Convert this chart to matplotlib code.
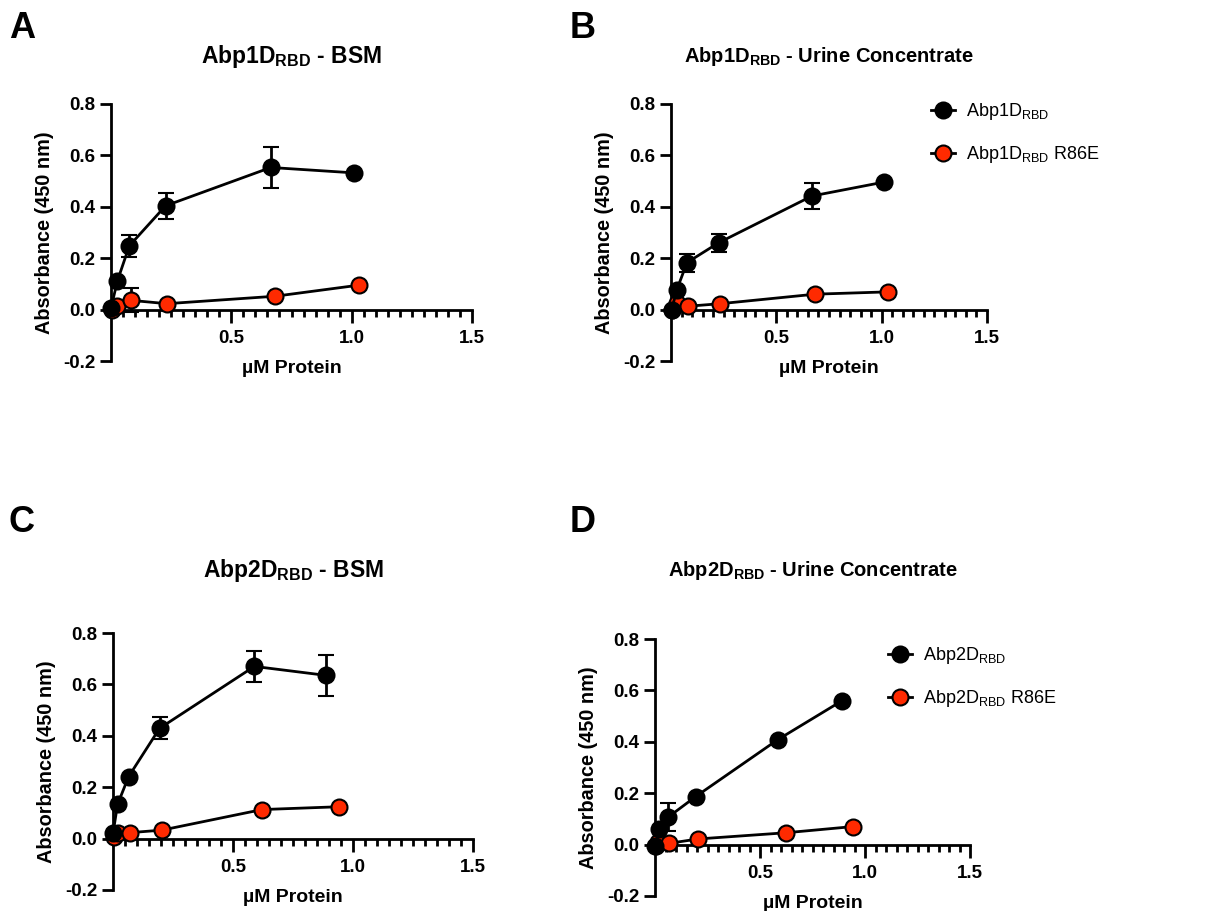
import matplotlib
matplotlib.use('Agg')
import matplotlib.pyplot as plt
from matplotlib.ticker import MultipleLocator
from matplotlib.lines import Line2D

plt.rcParams['font.family'] = ['Liberation Sans', 'DejaVu Sans']
plt.rcParams['mathtext.fontset'] = 'custom'
plt.rcParams['mathtext.rm'] = 'Liberation Sans'
plt.rcParams['mathtext.bf'] = 'Liberation Sans:bold'

RED = '#FF2A00'

# panel A: Abp1D_RBD - BSM
a_wt_x = [0.0, 0.026, 0.076, 0.227, 0.664, 1.01]
a_wt_y = [0.005, 0.11, 0.248, 0.404, 0.553, 0.532]
a_wt_err = [0, 0, 0.044, 0.05, 0.08, 0]
a_mut_x = [0.003, 0.026, 0.083, 0.232, 0.682, 1.029]
a_mut_y = [0.0, 0.013, 0.036, 0.023, 0.052, 0.095]
a_mut_err = [0, 0, 0.047, 0, 0, 0]

# panel B: Abp1D_RBD - Urine Concentrate
b_wt_x = [0.003, 0.028, 0.076, 0.226, 0.669, 1.01]
b_wt_y = [0.0, 0.078, 0.183, 0.26, 0.442, 0.496]
b_wt_err = [0, 0, 0.035, 0.035, 0.049, 0]
b_mut_x = [0.003, 0.028, 0.079, 0.234, 0.684, 1.03]
b_mut_y = [0.0, 0.026, 0.013, 0.023, 0.06, 0.069]
b_mut_err = [0, 0, 0, 0, 0, 0]

# panel C: Abp2D_RBD - BSM
c_wt_x = [0.0, 0.019, 0.065, 0.194, 0.589, 0.889]
c_wt_y = [0.02, 0.133, 0.241, 0.429, 0.67, 0.635]
c_wt_err = [0, 0, 0, 0.043, 0.059, 0.079]
c_mut_x = [0.003, 0.019, 0.069, 0.204, 0.621, 0.943]
c_mut_y = [0.007, 0.02, 0.023, 0.033, 0.113, 0.124]
c_mut_err = [0, 0, 0, 0, 0, 0]

# panel D: Abp2D_RBD - Urine Concentrate
d_wt_x = [0.0, 0.021, 0.063, 0.194, 0.584, 0.889]
d_wt_y = [-0.007, 0.059, 0.107, 0.187, 0.408, 0.559]
d_wt_err = [0, 0, 0.056, 0, 0, 0]
d_mut_x = [0.003, 0.016, 0.067, 0.206, 0.622, 0.941]
d_mut_y = [-0.004, 0.009, 0.005, 0.022, 0.046, 0.07]
d_mut_err = [0, 0, 0, 0, 0, 0]

W, H = 1212, 911
fig = plt.figure(figsize=(W / 100, H / 100), dpi=100)


def box(l, r, t, b):
    return [l / W, 1 - b / H, (r - l) / W, (b - t) / H]


def panel(rect, letter, letter_xy, title, title_y, title_size, wt, mut):
    ax = fig.add_axes(rect)
    # red first so black sits on top near the origin
    for (x, y, e), fc in ((mut, RED), (wt, 'black')):
        ax.errorbar(x, y, yerr=e, color='black', lw=2, elinewidth=2,
                    capsize=6, capthick=2, marker='o', ms=11.5,
                    mfc=fc, mec='black', mew=1.5, clip_on=False, zorder=3)
    ax.set_xlim(0, 1.5)
    ax.set_ylim(-0.2, 0.8)
    ax.spines['top'].set_visible(False)
    ax.spines['right'].set_visible(False)
    ax.spines['bottom'].set_position(('data', 0))
    ax.spines['left'].set_linewidth(2)
    ax.spines['bottom'].set_linewidth(2)
    ax.set_xticks([0.5, 1.0, 1.5])
    ax.xaxis.set_minor_locator(MultipleLocator(0.05))
    ax.set_yticks([-0.2, 0.0, 0.2, 0.4, 0.6, 0.8])
    ax.yaxis.set_major_formatter(plt.FuncFormatter(lambda v, p: f'{v:.1f}'))
    ax.tick_params(axis='both', which='major', width=2, length=8,
                   labelsize=13.5, direction='out')
    ax.tick_params(axis='x', which='major', length=9, pad=6)
    ax.tick_params(axis='x', which='minor', width=2, length=5)
    for lab in ax.get_xticklabels() + ax.get_yticklabels():
        lab.set_fontweight('bold')
    ax.set_ylabel('Absorbance (450 nm)', fontsize=14.3, fontweight='bold', labelpad=6)
    ax.set_xlabel('\u00b5M Protein', fontsize=14, fontweight='bold', labelpad=9)
    pos = ax.get_position()
    fig.text(pos.x0 + pos.width / 2, 1 - title_y / H, title, ha='center', va='center',
             fontsize=title_size, fontweight='bold')
    fig.text(letter_xy[0] / W, 1 - letter_xy[1] / H, letter, ha='left', va='center',
             fontsize=26, fontweight='bold')
    return ax


panel(box(111, 472, 104, 361), 'A', (9, 28), r'Abp1D$_{\mathbf{RBD}}$ - BSM', 57, 16.5,
      (a_wt_x, a_wt_y, a_wt_err), (a_mut_x, a_mut_y, a_mut_err))
panel(box(671, 987, 104, 361), 'B', (570, 28), r'Abp1D$_{\mathbf{RBD}}$ - Urine Concentrate', 57, 14.5,
      (b_wt_x, b_wt_y, b_wt_err), (b_mut_x, b_mut_y, b_mut_err))
panel(box(113, 473, 633, 890), 'C', (9, 522), r'Abp2D$_{\mathbf{RBD}}$ - BSM', 570, 16.5,
      (c_wt_x, c_wt_y, c_wt_err), (c_mut_x, c_mut_y, c_mut_err))
panel(box(655, 970, 639, 896), 'D', (570, 522), r'Abp2D$_{\mathbf{RBD}}$ - Urine Concentrate', 570, 14.5,
      (d_wt_x, d_wt_y, d_wt_err), (d_mut_x, d_mut_y, d_mut_err))


def legend(labels, anchor):
    handles = [Line2D([], [], color='black', lw=2, marker='o', ms=11.5, mfc=fc,
                      mec='black', mew=1.5) for fc in ('black', RED)]
    fig.legend(handles, labels, loc='upper left', bbox_to_anchor=anchor,
               frameon=False, fontsize=13, handlelength=1.3, handletextpad=0.6,
               labelspacing=1.2, borderaxespad=0)


legend([r'Abp1D$_{\mathrm{RBD}}$', r'Abp1D$_{\mathrm{RBD}}$ R86E'], (924 / W, 1 - 94 / H))
legend([r'Abp2D$_{\mathrm{RBD}}$', r'Abp2D$_{\mathrm{RBD}}$ R86E'], (881 / W, 1 - 638 / H))

fig.savefig('out.png', dpi=100)
